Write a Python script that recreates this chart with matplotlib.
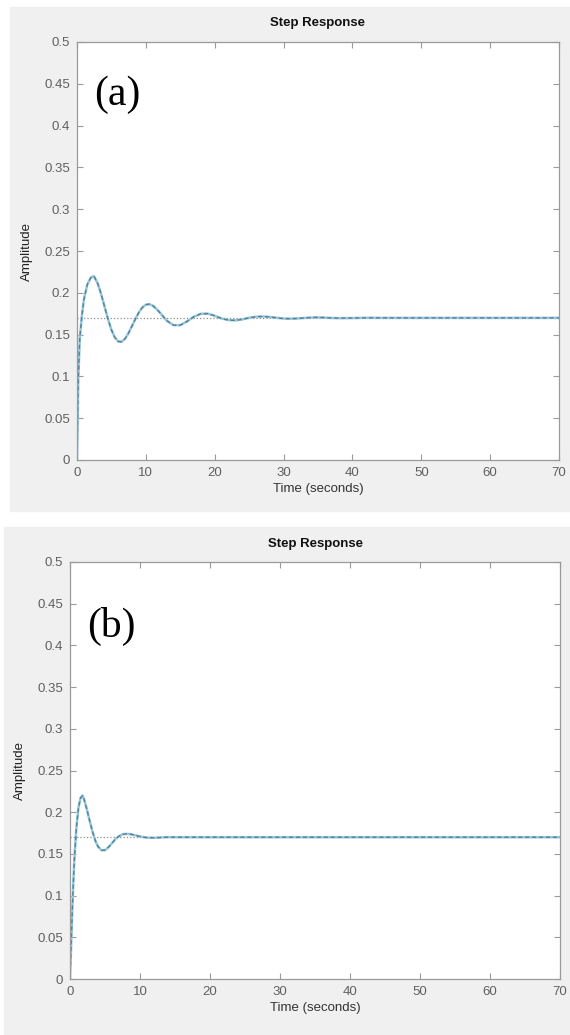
import matplotlib
matplotlib.use("Agg")
import matplotlib.pyplot as plt
from matplotlib.patches import Rectangle

# Step response (a)
t_a = [0, 0.2, 0.4, 0.7, 1.0, 1.5, 2.0, 2.4, 2.5, 3.0, 3.5, 4.0, 4.5, 5.0, 5.5, 6.0,
       6.5, 7.0, 7.5, 8.0, 8.5, 9.0, 9.5, 10.0, 10.5, 11.0, 11.5, 12.0, 13, 14, 15,
       16, 17, 18, 19, 20, 21, 22, 23, 24, 25, 26, 27, 28, 29, 30, 31, 32, 33, 34,
       35, 36, 37, 38, 40, 42, 45, 50, 60, 70]
y_a = [0, 0.100, 0.145, 0.172, 0.192, 0.210, 0.218, 0.220, 0.2192, 0.2113, 0.1986,
       0.1836, 0.1686, 0.1557, 0.1465, 0.1417, 0.1415, 0.1453, 0.1521, 0.1605,
       0.1691, 0.1768, 0.1825, 0.1858, 0.1864, 0.1846, 0.1811, 0.1766, 0.1669,
       0.1613, 0.1613, 0.1659, 0.1715, 0.1749, 0.1751, 0.1725, 0.1693, 0.1673,
       0.1670, 0.1682, 0.1701, 0.1714, 0.1717, 0.1711, 0.1701, 0.1692, 0.1690,
       0.1693, 0.1699, 0.1704, 0.1706, 0.1703, 0.1699, 0.1697, 0.1698, 0.1701,
       0.1700, 0.1700, 0.1700, 0.1700]

# Step response (b)
t_b = [0, 0.2, 0.4, 0.6, 0.9, 1.2, 1.5, 1.8, 2.0, 2.4, 2.8, 3.2, 3.6, 4.0, 4.5,
       5.0, 5.5, 6.0, 6.5, 7.0, 7.5, 8.0, 8.5, 9.0, 9.5, 10, 11, 12, 13, 14, 15,
       20, 30, 40, 50, 60, 70]
y_b = [0, 0.050, 0.100, 0.140, 0.180, 0.205, 0.217, 0.220, 0.2156, 0.2038, 0.1901,
       0.1771, 0.1663, 0.1588, 0.1543, 0.1545, 0.1580, 0.1629, 0.1679, 0.1712,
       0.1735, 0.1740, 0.1738, 0.1730, 0.1720, 0.1708, 0.1695, 0.1693, 0.1697,
       0.1701, 0.1700, 0.1700, 0.1700, 0.1700, 0.1700, 0.1700, 0.1700]

final_value = 0.17
x_ticks = [0, 10, 20, 30, 40, 50, 60, 70]
y_ticks = [0, 0.05, 0.1, 0.15, 0.2, 0.25, 0.3, 0.35, 0.4, 0.45, 0.5]
y_labels = ['0', '0.05', '0.1', '0.15', '0.2', '0.25', '0.3', '0.35', '0.4', '0.45', '0.5']
panels = ['(a)', '(b)']

W, H = 570, 1035
plt.rcParams['font.family'] = ['Liberation Sans', 'DejaVu Sans']
fig = plt.figure(figsize=(W / 100, H / 100), dpi=100, facecolor='white')

# grey MATLAB figure backgrounds
grey = '#f0f0f0'
fig.patches.append(Rectangle((10 / W, 1 - 511 / H), 560 / W, 504 / H,
                             transform=fig.transFigure, color=grey, zorder=-10))
fig.patches.append(Rectangle((4 / W, 0), 566 / W, 508 / H,
                             transform=fig.transFigure, color=grey, zorder=-10))

# axes boxes in pixels: left, right, top, bottom
boxes = [(77, 559, 42, 460), (70, 560, 562, 979)]
title_y = [23, 544]
ylab_x = [27, 20]
tlabel_y = [0.873, 0.846]

for i, (t, y) in enumerate([(t_a, y_a), (t_b, y_b)]):
    l, r, top, bot = boxes[i]
    ax = fig.add_axes([l / W, 1 - bot / H, (r - l) / W, (bot - top) / H], zorder=5)
    ax.set_facecolor('white')
    ax.plot([0, 70], [final_value, final_value], ':', color='#8c8c8c', lw=0.9)
    ax.plot(t, y, '-', color='#93c8e0', lw=1.8)
    ax.plot(t, y, '--', color='#5b7f90', lw=1.0, dashes=(3, 2))
    ax.set_xlim(0, 70)
    ax.set_ylim(0, 0.5)
    ax.set_xticks(x_ticks)
    ax.set_yticks(y_ticks)
    ax.set_yticklabels(y_labels)
    ax.tick_params(direction='in', length=4, width=0.8, colors='#9a9a9a',
                   labelcolor='#606060', labelsize=9.5, top=True, right=True, pad=5)
    for s in ax.spines.values():
        s.set_color('#9a9a9a')
        s.set_linewidth(0.9)
    ax.set_xlabel('Time (seconds)', fontsize=9.5, color='#333333', labelpad=3)
    fig.text(ylab_x[i] / W, 1 - (top + bot) / 2 / H, 'Amplitude', rotation=90,
             ha='center', va='center', fontsize=9.5, color='#222222')
    fig.text((l + r) / 2 / W, 1 - title_y[i] / H, 'Step Response', ha='center',
             va='center', fontsize=9.5, fontweight='bold', color='#111111')
    ax.text(0.035, tlabel_y[i], panels[i], transform=ax.transAxes, ha='left',
            va='center', fontsize=30, family='Liberation Serif', color='black')

fig.savefig('out.png', dpi=100, facecolor='white')
